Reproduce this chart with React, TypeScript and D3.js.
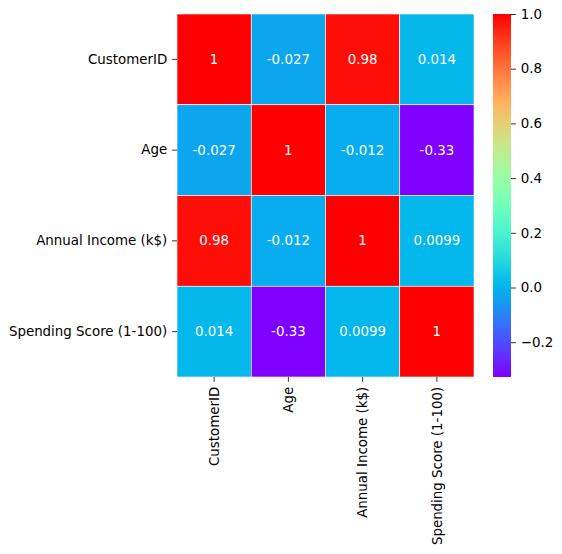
import {useEffect, useRef} from "react";
import * as d3 from "d3";

const labels = ["CustomerID", "Age", "Annual Income (k$)", "Spending Score (1-100)"];
const corr = [
	[1, -0.026763, 0.977548, 0.013835],
	[-0.026763, 1, -0.012398, -0.327227],
	[0.977548, -0.012398, 1, 0.009903],
	[0.013835, -0.327227, 0.009903, 1],
];
const annot = [
	["1", "-0.027", "0.98", "0.014"],
	["-0.027", "1", "-0.012", "-0.33"],
	["0.98", "-0.012", "1", "0.0099"],
	["0.014", "-0.33", "0.0099", "1"],
];
const cbarTicks = [-0.2, 0, 0.2, 0.4, 0.6, 0.8, 1.0];

// matplotlib "rainbow" (gnuplot 33,13,10)
const rainbow = (t: number) => {
	const x = Math.max(0, Math.min(1, t));
	const r = Math.min(1, Math.abs(2 * x - 0.5));
	const g = Math.sin(x * Math.PI);
	const b = Math.cos((x * Math.PI) / 2);
	return d3.rgb(r * 255, g * 255, b * 255).formatHex();
};

const App = () => {
	const svgRef = useRef(null);

	useEffect(() => {
		const width = 562;
		const height = 554;
		const left = 177, right = 474, top = 14, bottom = 377;
		const vmin = d3.min(corr.flat()) as number;
		const vmax = 1;
		const font = "DejaVu Sans, sans-serif";
		const fs = "13.4px";

		const svg = d3.select(svgRef.current)
			.attr("width", width)
			.attr("height", height)
			.attr("viewBox", [0, 0, width, height]);
		svg.selectAll("*").remove();
		svg.append("rect").attr("width", width).attr("height", height).attr("fill", "#fff");

		const x = d3.scaleBand().domain(labels).range([left, right]);
		const y = d3.scaleBand().domain(labels).range([top, bottom]);
		const norm = d3.scaleLinear().domain([vmin, vmax]).range([0, 1]);

		const cells = corr.flatMap((row, i) => row.map((v, j) => ({r: labels[i], c: labels[j], v, t: annot[i][j]})));

		svg.append("g").selectAll("rect").data(cells).enter().append("rect")
			.attr("x", (d) => x(d.c)!)
			.attr("y", (d) => y(d.r)!)
			.attr("width", x.bandwidth())
			.attr("height", y.bandwidth())
			.attr("fill", (d) => rainbow(norm(d.v)))
			.attr("stroke", "#fff")
			.attr("stroke-width", 0.6);

		svg.append("g").selectAll("text").data(cells).enter().append("text")
			.attr("x", (d) => x(d.c)! + x.bandwidth() / 2)
			.attr("y", (d) => y(d.r)! + y.bandwidth() / 2)
			.attr("text-anchor", "middle")
			.attr("dominant-baseline", "central")
			.attr("fill", "#fff")
			.style("font-family", font)
			.style("font-size", fs)
			.text((d) => d.t);

		// y axis
		const yAxis = svg.append("g")
			.attr("transform", `translate(${left},0)`)
			.call(d3.axisLeft(y).tickSize(4.9).tickPadding(4.9));
		yAxis.select(".domain").remove();
		yAxis.selectAll(".tick line").attr("stroke", "#333").attr("stroke-width", 1);
		yAxis.selectAll("text").style("font-family", font).style("font-size", fs).attr("fill", "#000");

		// x axis, rotated labels
		const xAxis = svg.append("g")
			.attr("transform", `translate(0,${bottom})`)
			.call(d3.axisBottom(x).tickSize(4.9).tickPadding(4.9));
		xAxis.select(".domain").remove();
		xAxis.selectAll(".tick line").attr("stroke", "#333").attr("stroke-width", 1);
		xAxis.selectAll("text")
			.style("font-family", font).style("font-size", fs).attr("fill", "#000")
			.attr("transform", "rotate(-90)")
			.attr("x", -9.8).attr("y", 0).attr("dy", "0.35em")
			.attr("text-anchor", "end");

		// colorbar
		const cbL = 493, cbR = 511;
		const cy = d3.scaleLinear().domain([vmin, vmax]).range([bottom, top]);
		const defs = svg.append("defs");
		const grad = defs.append("linearGradient").attr("id", "cbgrad")
			.attr("x1", 0).attr("y1", 1).attr("x2", 0).attr("y2", 0);
		d3.range(0, 1.0001, 0.02).forEach((t) => {
			grad.append("stop").attr("offset", t).attr("stop-color", rainbow(t));
		});
		svg.append("rect")
			.attr("x", cbL).attr("y", top)
			.attr("width", cbR - cbL).attr("height", bottom - top)
			.attr("fill", "url(#cbgrad)");

		const cAxis = svg.append("g")
			.attr("transform", `translate(${cbR},0)`)
			.call(d3.axisRight(cy).tickValues(cbarTicks).tickSize(4.9).tickPadding(4.9)
				.tickFormat((d) => d3.format(".1f")(d as number).replace("-", "\u2212")));
		cAxis.select(".domain").remove();
		cAxis.selectAll(".tick line").attr("stroke", "#333").attr("stroke-width", 1);
		cAxis.selectAll("text").style("font-family", font).style("font-size", fs).attr("fill", "#000");
	}, []);

	return (
		<svg ref={svgRef} style={{position: "absolute", left: 0, top: 0, display: "block"}}></svg>
	);
};

export default App;
